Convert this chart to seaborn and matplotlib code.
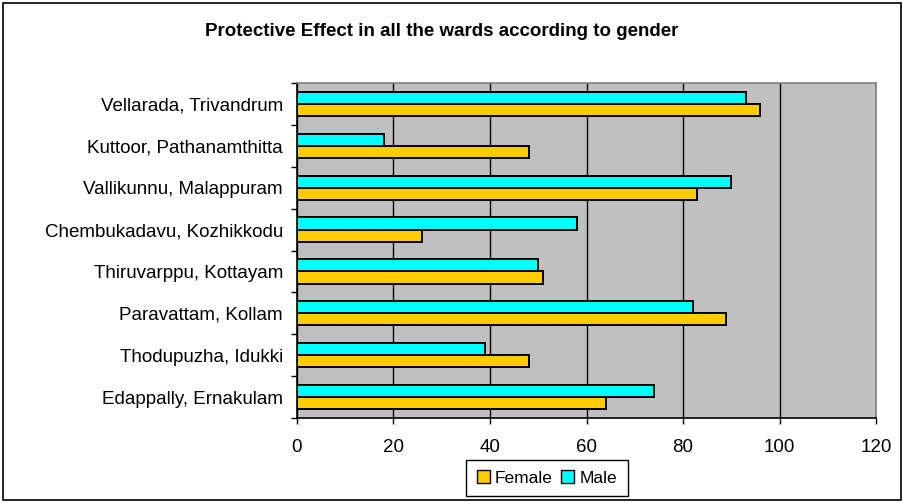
import numpy as np
import pandas as pd
import seaborn as sns
import matplotlib.pyplot as plt
from matplotlib.patches import Patch, Rectangle
from matplotlib.ticker import FixedLocator

wards = ["Vellarada, Trivandrum", "Kuttoor, Pathanamthitta", "Vallikunnu, Malappuram",
         "Chembukadavu, Kozhikkodu", "Thiruvarppu, Kottayam", "Paravattam, Kollam",
         "Thodupuzha, Idukki", "Edappally, Ernakulam"]
male = [93, 18, 90, 58, 50, 82, 39, 74]
female = [96, 48, 83, 26, 51, 89, 48, 64]
xticks = [0, 20, 40, 60, 80, 100, 120]

df = pd.DataFrame({
    "Ward": wards * 2,
    "Value": male + female,
    "Gender": ["Male"] * len(wards) + ["Female"] * len(wards),
})

sns.set_style("white")
plt.rcParams['font.family'] = ['Liberation Sans', 'DejaVu Sans']
plt.rcParams['text.color'] = 'black'
plt.rcParams['xtick.color'] = 'black'
plt.rcParams['ytick.color'] = 'black'

fig = plt.figure(figsize=(9.04, 5.03), dpi=100)
ax = fig.add_axes([297 / 904, 1 - 418 / 503, (876 - 297) / 904, (418 - 83) / 503])

colors = {"Male": "#00FFFF", "Female": "#FFCC00"}
sns.barplot(data=df, y="Ward", x="Value", hue="Gender", hue_order=["Male", "Female"],
            order=wards, palette=colors, orient="h", width=0.58, saturation=1,
            edgecolor="black", linewidth=1.4, legend=False, ax=ax)

ax.set_facecolor("#C0C0C0")
ax.set_xlim(0, 120)
ax.set_ylim(len(wards) - 0.5, -0.5)
ax.set_xticks(xticks)
ax.set_xlabel("")
ax.set_ylabel("")
ax.xaxis.grid(True, color="black", linewidth=1.0)
ax.set_axisbelow(True)

# category ticks sit on the group boundaries, like in Excel
ax.yaxis.set_minor_locator(FixedLocator(np.arange(-0.5, len(wards), 1.0)))
ax.tick_params(axis="y", which="major", length=0, labelsize=13.5, pad=10)
ax.tick_params(axis="y", which="minor", length=4, width=1, direction="out", left=True)
ax.tick_params(axis="x", length=4, width=1, direction="out", bottom=True, labelsize=13.5, pad=11)

for side in ["left", "bottom"]:
    ax.spines[side].set_color("black")
    ax.spines[side].set_linewidth(1.2)
for side in ["top", "right"]:
    ax.spines[side].set_color("#808080")
    ax.spines[side].set_linewidth(1.2)

fig.text(442 / 904, 1 - 32 / 503, "Protective Effect in all the wards according to gender",
         ha="center", va="center", fontsize=13.5, fontweight="bold")

handles = [Patch(facecolor=colors["Female"], edgecolor="black", label="Female"),
           Patch(facecolor=colors["Male"], edgecolor="black", label="Male")]
fig.legend(handles=handles, loc="center", bbox_to_anchor=(547 / 904, 1 - 478 / 503),
           ncol=2, frameon=True, fancybox=False, edgecolor="black", fontsize=12.5,
           handlelength=0.75, handleheight=0.75, handletextpad=0.3, columnspacing=0.5,
           borderpad=0.6, borderaxespad=0, framealpha=1)

fig.patches.append(Rectangle((0.003, 0.005), 0.994, 0.99, transform=fig.transFigure,
                             fill=False, edgecolor="black", linewidth=1.2))

fig.savefig("out.png", dpi=100, facecolor="white")
